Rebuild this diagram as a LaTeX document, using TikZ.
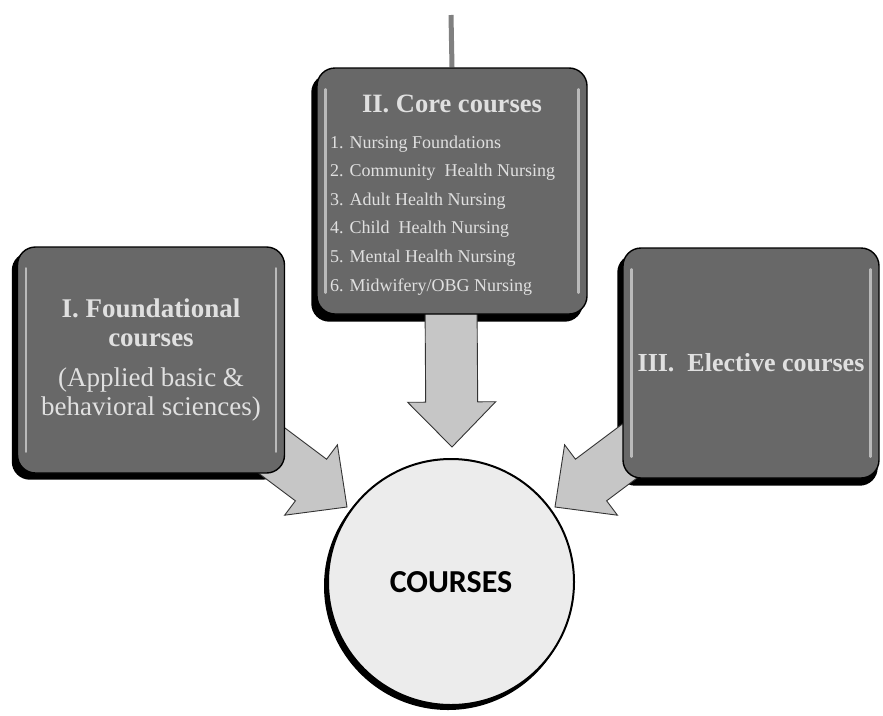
\documentclass[tikz,border=0pt]{standalone}
\usepackage{fontspec}
\setmainfont{Liberation Serif}
\newfontfamily\calibrifont{Carlito}
\usetikzlibrary{calc}
\definecolor{boxgray}{RGB}{104,104,104}
\definecolor{boxtext}{RGB}{224,224,224}
\definecolor{ballgray}{RGB}{236,236,236}
\definecolor{arrowgray}{RGB}{198,198,198}
\definecolor{stemgray}{RGB}{128,128,128}
\pgfdeclarelayer{shade}
\pgfdeclarelayer{arrows}
\pgfsetlayers{shade,arrows,main}
\tikzset{
  coursebox/.style={rectangle, rounded corners=18pt, draw=black, line width=1.4pt, fill=boxgray, text=boxtext, inner sep=0pt, align=center},
  gloss/.style={white, opacity=0.55, line width=2.5pt, line cap=round},
  boxshadow/.style={fill=black, rounded corners=18pt},
  fatarrowstyle/.style={draw=black!80, line width=0.9pt, fill=arrowgray, line join=miter},
  itemtext/.style={anchor=base west, text=boxtext, inner sep=0pt, font=\fontsize{18}{20}\selectfont}
}
% block arrow from #1 to the tip #2
\newcommand{\fatarrow}[2]{%
  \coordinate (hb) at ($(#2)!45pt!(#1)$);
  \draw[fatarrowstyle] ($(#1)!26pt!90:(#2)$) -- ($(hb)!26pt!90:(#2)$) -- ($(hb)!44pt!90:(#2)$) -- (#2) -- ($(hb)!44pt!-90:(#2)$) -- ($(hb)!26pt!-90:(#2)$) -- ($(#1)!26pt!-90:(#2)$) -- cycle;}

\begin{document}
\begin{tikzpicture}[x=1pt, y=1pt]
			%%%%% START %%%%%
			\useasboundingbox (0,0) rectangle (883,-715);
			
			\node[coursebox, minimum width=270pt, minimum height=246pt] (core) at (452,-191) {};
			\node[coursebox, minimum width=267pt, minimum height=226pt, font=\fontsize{27}{29}\selectfont] (found) at (151,-360)
				{\textbf{I. Foundational}\\ \textbf{courses}\\[11pt] (Applied\ basic \&\\ behavioral sciences)};
			\node[coursebox, minimum width=256pt, minimum height=230pt, font=\fontsize{26}{29}\selectfont\bfseries] (elective) at (751,-363)
				{III.\ \ Elective courses};
			\node[circle, draw=black, line width=2pt, fill=ballgray, minimum size=246pt, inner sep=0pt, font=\calibrifont\bfseries\fontsize{32}{36}\selectfont] (courses) at (451,-582) {COURSES};
			
			\coordinate (top) at (451,-15);
			\coordinate (startL) at (219,-411);
			\coordinate (startC) at (451,-300);
			\coordinate (startR) at (683,-411);
			\coordinate (tipL) at (347,-507);
			\coordinate (tipC) at (452,-447);
			\coordinate (tipR) at (555,-507);
			
			\begin{pgfonlayer}{shade}
				\fill[boxshadow] ([shift={(-5,-7)}]core.south west) rectangle ([shift={(-5,-7)}]core.north east);
				\fill[boxshadow] ([shift={(-5,-6)}]found.south west) rectangle ([shift={(-5,-6)}]found.north east);
				\fill[boxshadow] ([shift={(-5,-7)}]elective.south west) rectangle ([shift={(-2,-7)}]elective.north east);
				\fill[black] ([shift={(-3,-4)}]courses.center) circle (124);
				\draw[stemgray, line width=5pt] (top) -- (core.north);
			\end{pgfonlayer}
			
			\begin{pgfonlayer}{arrows}
				\fatarrow{startL}{tipL}
				\fatarrow{startC}{tipC}
				\fatarrow{startR}{tipR}
			\end{pgfonlayer}
			
			\draw[gloss] ([shift={(9,-22)}]core.north west) -- ([shift={(9,22)}]core.south west);
			\draw[gloss] ([shift={(-9,-22)}]core.north east) -- ([shift={(-9,22)}]core.south east);
			\draw[gloss] ([shift={(9,-22)}]found.north west) -- ([shift={(9,22)}]found.south west);
			\draw[gloss] ([shift={(-9,-22)}]found.north east) -- ([shift={(-9,22)}]found.south east);
			\draw[gloss] ([shift={(9,-22)}]elective.north west) -- ([shift={(9,22)}]elective.south west);
			\draw[gloss] ([shift={(-9,-22)}]elective.north east) -- ([shift={(-9,22)}]elective.south east);
			
			\node[anchor=base, text=boxtext, inner sep=0pt, font=\fontsize{26.5}{28}\selectfont\bfseries] (coretitle) at (452,-112) {II.\ Core courses};
			\node[itemtext] (item1) at (330,-148) {1. Nursing Foundations};
			\node[itemtext] (item2) at (330,-176.6) {2. Community\ \ Health Nursing};
			\node[itemtext] (item3) at (330,-205.2) {3. Adult Health Nursing};
			\node[itemtext] (item4) at (330,-233.8) {4. Child\ \ Health Nursing};
			\node[itemtext] (item5) at (330,-262.4) {5. Mental Health Nursing};
			\node[itemtext] (item6) at (330,-291) {6. Midwifery/OBG Nursing};
			
			%%%%% END %%%%%
		\end{tikzpicture}
\end{document}
